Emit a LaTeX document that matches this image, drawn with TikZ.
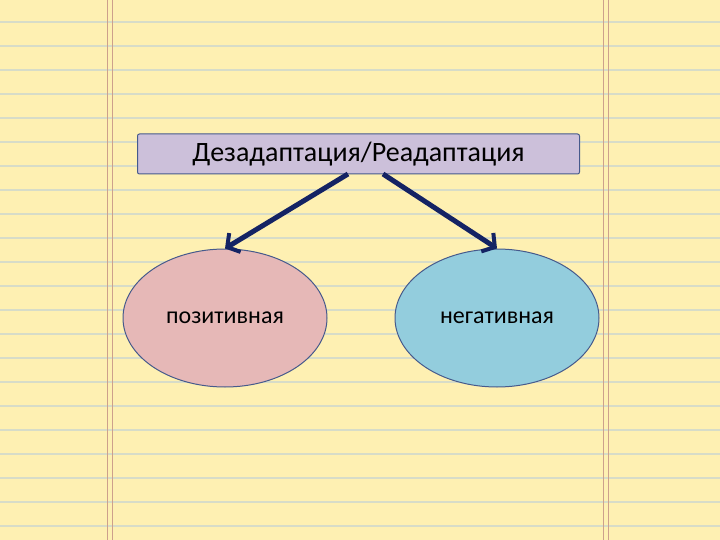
\documentclass[tikz,border=0pt]{standalone}
\usepackage{fontspec}
\setmainfont{Carlito}
\usetikzlibrary{arrows.meta,shapes.geometric}
\definecolor{paper}{RGB}{254,240,178}
\definecolor{rule}{RGB}{215,220,200}
\definecolor{margin}{RGB}{205,160,140}
\definecolor{boxfill}{RGB}{204,192,218}
\definecolor{pinkfill}{RGB}{230,184,183}
\definecolor{bluefill}{RGB}{147,205,221}
\definecolor{edge}{RGB}{70,90,140}
\definecolor{arrowc}{RGB}{20,35,100}
\tikzset{
  oval/.style={ellipse, draw=edge, line width=1pt, minimum width=204pt, minimum height=138pt, font=\fontsize{24}{26}\selectfont},
  conn/.style={draw=arrowc, line width=5pt, -{Straight Barb[length=9pt,width=22pt,line width=4pt]}}
}
\begin{document}
\begin{tikzpicture}[x=1pt,y=-1pt]
\useasboundingbox (0,0) rectangle (720,540);
\fill[paper] (0,0) rectangle (720,540);
\foreach \y in {22,46,...,530} \draw[rule, line width=1.2pt] (0,\y) -- (720,\y);
\foreach \x in {107,112,603,608} \draw[margin, line width=0.8pt] (\x,0) -- (\x,540);
\node[draw=edge, line width=1pt, fill=boxfill, rounded corners=2pt, minimum width=442pt, minimum height=40pt, font=\fontsize{28}{30}\selectfont] (top) at (358.5,154) {Дезадаптация/Реадаптация};
\node[oval, fill=pinkfill] (pos) at (225,318) {позитивная};
\node[oval, fill=bluefill] (neg) at (497,318) {негативная};
\draw[conn] (348,174) -- (pos.north);
\draw[conn] (383,174) -- (neg.north);
\end{tikzpicture}
\end{document}
